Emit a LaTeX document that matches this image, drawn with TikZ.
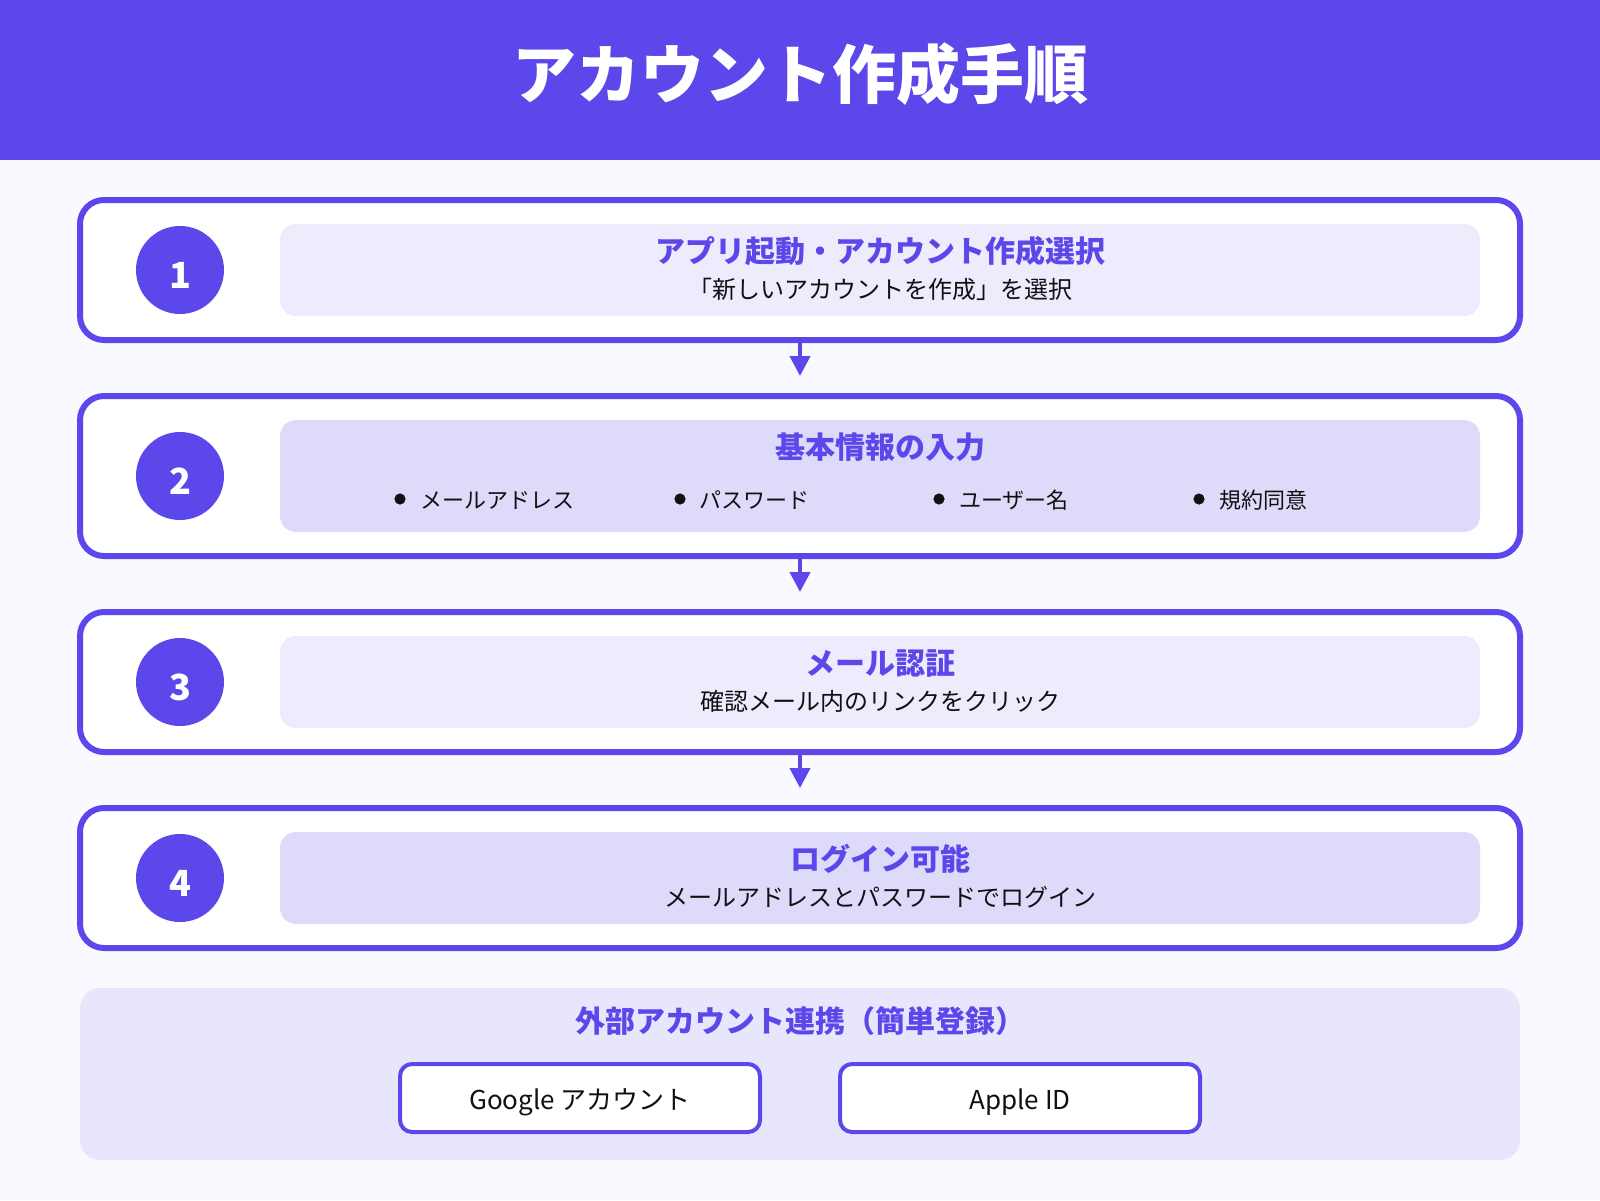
\documentclass[tikz,border=0pt]{standalone}
\usepackage{fontspec}
\setmainfont{Noto Sans CJK JP}
\usetikzlibrary{arrows.meta}
\definecolor{primary}{HTML}{5C47EB}
\definecolor{bgc}{HTML}{F9F9FF}
\definecolor{panelA}{HTML}{EDEBFC}
\definecolor{panelB}{HTML}{DEDAFA}
\definecolor{extbg}{HTML}{E8E6FC}
\definecolor{inkc}{HTML}{111111}
\begin{document}
\begin{tikzpicture}[x=0.5pt,y=-0.5pt,
  stepbox/.style={draw=primary, line width=3pt, fill=white, rounded corners=12pt, minimum width=720pt, inner sep=0pt},
  panel/.style={rounded corners=8pt, minimum width=600pt, inner sep=0pt},
  numcirc/.style={circle, fill=primary, minimum size=44pt, inner sep=0pt},
  numtxt/.style={text=white, font=\fontsize{18}{20}\selectfont\bfseries, anchor=base, inner sep=0pt},
  titletxt/.style={text=primary, font=\fontsize{15}{18}\selectfont\bfseries, anchor=base, inner sep=0pt},
  subtxt/.style={text=inkc, font=\fontsize{12}{14}\selectfont, anchor=base, inner sep=0pt},
  bultxt/.style={text=inkc, font=\fontsize{11}{13}\selectfont, anchor=base west, inner sep=0pt},
  bulletdot/.style={circle, fill=inkc, minimum size=5.6pt, inner sep=0pt},
  btn/.style={draw=primary, line width=2pt, fill=white, rounded corners=6pt, minimum width=180pt, minimum height=34pt, inner sep=0pt},
  btntxt/.style={text=inkc, font=\fontsize{13}{15}\selectfont, anchor=base, inner sep=0pt},
  arr/.style={draw=primary, line width=2pt, -{Triangle[length=10pt,width=10pt]}, shorten >=8.5pt}
]
\useasboundingbox (0,0) rectangle (1600,1200);
\fill[bgc] (0,0) rectangle (1600,1200);
% header
\node[fill=primary, minimum width=800pt, minimum height=80pt, inner sep=0pt, anchor=north west] (header) at (0,0) {};
\node[text=white, font=\fontsize{32}{36}\selectfont\bfseries, anchor=base, inner sep=0pt] (htitle) at (800,98) {アカウント作成手順};

% step boxes
\node[stepbox, minimum height=70pt] (s1) at (800,270) {};
\node[stepbox, minimum height=80pt] (s2) at (800,476) {};
\node[stepbox, minimum height=70pt] (s3) at (800,682) {};
\node[stepbox, minimum height=70pt] (s4) at (800,878) {};

% panels
\node[panel, fill=panelA, minimum height=46pt] (p1) at (880,270) {};
\node[panel, fill=panelB, minimum height=56pt] (p2) at (880,476) {};
\node[panel, fill=panelA, minimum height=46pt] (p3) at (880,682) {};
\node[panel, fill=panelB, minimum height=46pt] (p4) at (880,878) {};

% number circles
\node[numcirc] (c1) at (180,270) {};
\node[numcirc] (c2) at (180,476) {};
\node[numcirc] (c3) at (180,682) {};
\node[numcirc] (c4) at (180,878) {};
\node[numtxt] (n1) at (180,288) {1};
\node[numtxt] (n2) at (180,494) {2};
\node[numtxt] (n3) at (180,700) {3};
\node[numtxt] (n4) at (180,896) {4};

% step 1
\node[titletxt] (t1) at (880,262) {アプリ起動・アカウント作成選択};
\node[subtxt] (d1) at (880,298) {「新しいアカウントを作成」を選択};
% step 2
\node[titletxt] (t2) at (880,458) {基本情報の入力};
\node[bulletdot] (b1) at (400,499) {};
\node[bulletdot] (b2) at (680,499) {};
\node[bulletdot] (b3) at (939,499) {};
\node[bulletdot] (b4) at (1199,499) {};
\node[bultxt] (l1) at (420,508) {メールアドレス};
\node[bultxt] (l2) at (699,508) {パスワード};
\node[bultxt] (l3) at (959,508) {ユーザー名};
\node[bultxt] (l4) at (1219,508) {規約同意};
% step 3
\node[titletxt] (t3) at (880,674) {メール認証};
\node[subtxt] (d3) at (880,710) {確認メール内のリンクをクリック};
% step 4
\node[titletxt] (t4) at (880,870) {ログイン可能};
\node[subtxt] (d4) at (880,906) {メールアドレスとパスワードでログイン};

% arrows
\draw[arr] (s1.south) -- (s2.north);
\draw[arr] (s2.south) -- (s3.north);
\draw[arr] (s3.south) -- (s4.north);

% external accounts
\node[fill=extbg, rounded corners=10pt, minimum width=720pt, minimum height=86pt, inner sep=0pt] (ext) at (800,1074) {};
\node[titletxt] (extt) at (800,1032) {外部アカウント連携（簡単登録）};
\node[btn] (g) at (580,1098) {};
\node[btn] (a) at (1020,1098) {};
\node[btntxt] (gt) at (580,1109) {Google アカウント};
\node[btntxt] (at) at (1020,1109) {Apple ID};
\end{tikzpicture}
\end{document}
